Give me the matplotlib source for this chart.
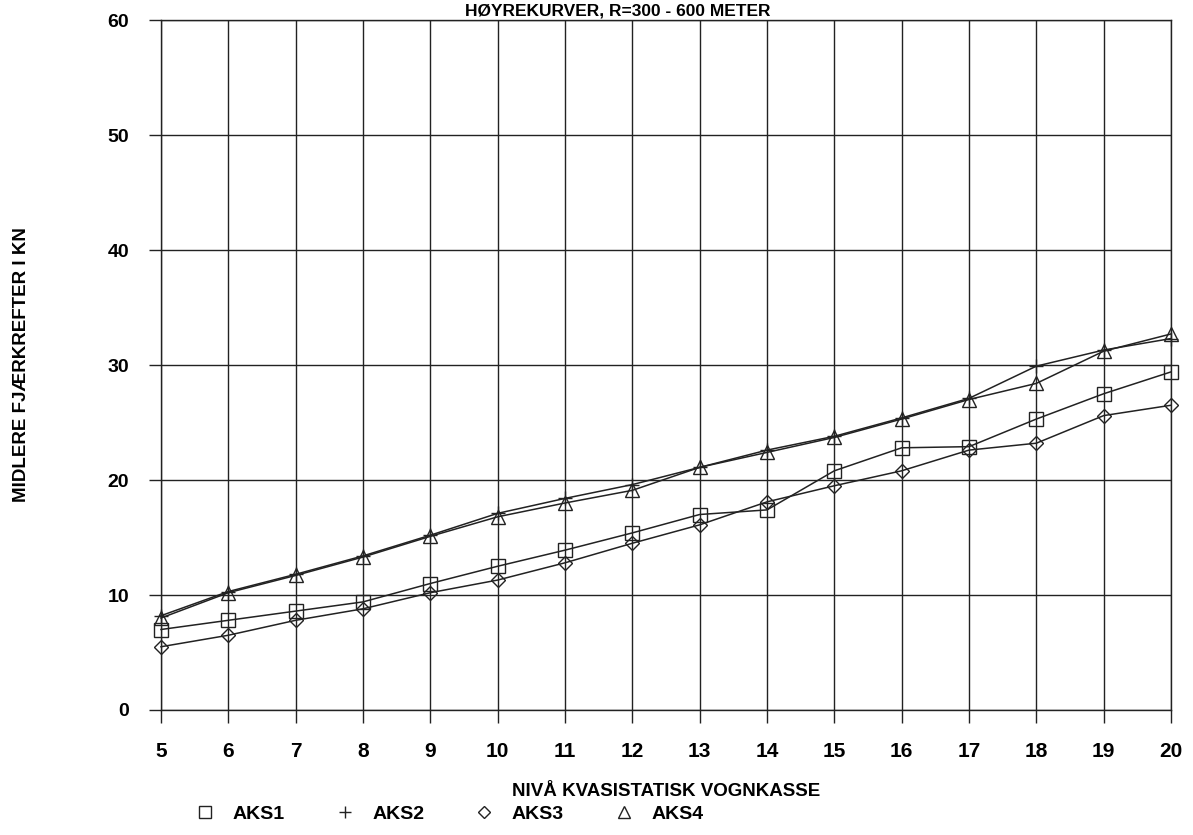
import matplotlib
matplotlib.use("Agg")
import matplotlib.pyplot as plt
from matplotlib.lines import Line2D

levels = [5, 6, 7, 8, 9, 10, 11, 12, 13, 14, 15, 16, 17, 18, 19, 20]
aks1 = [7.0, 7.8, 8.6, 9.4, 11.0, 12.5, 13.9, 15.4, 17.0, 17.4, 20.8, 22.8, 22.9, 25.3, 27.5, 29.4]
aks2 = [8.2, 10.3, 11.8, 13.4, 15.2, 17.1, 18.4, 19.6, 21.1, 22.6, 23.8, 25.4, 27.1, 29.9, 31.3, 32.3]
aks3 = [5.5, 6.5, 7.8, 8.8, 10.2, 11.3, 12.8, 14.5, 16.1, 18.1, 19.5, 20.8, 22.6, 23.2, 25.6, 26.5]
aks4 = [8.0, 10.2, 11.7, 13.3, 15.1, 16.8, 18.0, 19.1, 21.1, 22.4, 23.7, 25.3, 27.0, 28.4, 31.2, 32.7]
series_names = ["AKS1", "AKS2", "AKS3", "AKS4"]
markers = ["s", "+", "D", "^"]
yticks = [0, 10, 20, 30, 40, 50, 60]

title = "HØYREKURVER, R=300 - 600 METER"
xlabel = "NIVÅ KVASISTATISK VOGNKASSE"
ylabel = "MIDLERE FJÆRKREFTER I KN"

W, H = 1193, 835
fig = plt.figure(figsize=(W / 100, H / 100), dpi=100)
ax = fig.add_axes([161 / W, 1 - 710 / H, (1171 - 161) / W, (710 - 20) / H])

msizes = [10, 10, 7, 10]
for vals, m, ms in zip([aks1, aks2, aks3, aks4], markers, msizes):
    ax.plot(levels, vals, color="#222222", lw=1.1, marker=m, ms=ms,
            markerfacecolor="none", markeredgecolor="#222222", mew=1.0,
            zorder=3, clip_on=False)

ax.set_xlim(5, 20)
ax.set_ylim(0, 60)
ax.set_xticks(levels)
ax.set_yticks(yticks)
ax.grid(True, color="#222222", lw=1.0)
for s in ax.spines.values():
    s.set_visible(True)
    s.set_color("#222222")
    s.set_linewidth(1.0)
ax.tick_params(axis="both", length=9, width=1.0, color="#222222")
ax.tick_params(axis="x", pad=14)
ax.tick_params(axis="y", pad=14)
for lab in ax.get_xticklabels():
    lab.set_fontfamily(["Liberation Sans", "DejaVu Sans"])
    lab.set_fontsize(15)
    lab.set_fontweight("bold")
for lab in ax.get_yticklabels():
    lab.set_fontfamily(["Liberation Sans", "DejaVu Sans"])
    lab.set_fontsize(14)
    lab.set_fontweight("bold")

fig.text(666 / W, 1 - 792 / H, xlabel, ha="center", va="center",
         fontsize=13.5, fontweight="bold",
         family=["Liberation Sans", "DejaVu Sans"])
fig.text(22 / W, 1 - 365 / H, ylabel, ha="center", va="center", rotation=90,
         fontsize=13.5, fontweight="bold", family=["Liberation Sans", "DejaVu Sans"])
fig.text(618 / W, 1 - 15 / H, title, ha="center", va="baseline",
         fontsize=12.5, fontweight="bold", family=["Liberation Sans", "DejaVu Sans"])

handles = [Line2D([], [], ls="none", marker=m, ms=s, markerfacecolor="none",
                  markeredgecolor="#222222", mew=1.0)
           for m, s in zip(markers, [8, 8, 6, 8])]
leg = fig.legend(handles, series_names, loc="center left",
                 bbox_to_anchor=(178 / W, 1 - 814 / H), ncol=4, frameon=False,
                 handlelength=1.0, handletextpad=0.9, columnspacing=2.6,
                 prop={"family": ["Liberation Sans", "DejaVu Sans"], "size": 14, "weight": "bold"})

fig.savefig("out.png", dpi=100)
